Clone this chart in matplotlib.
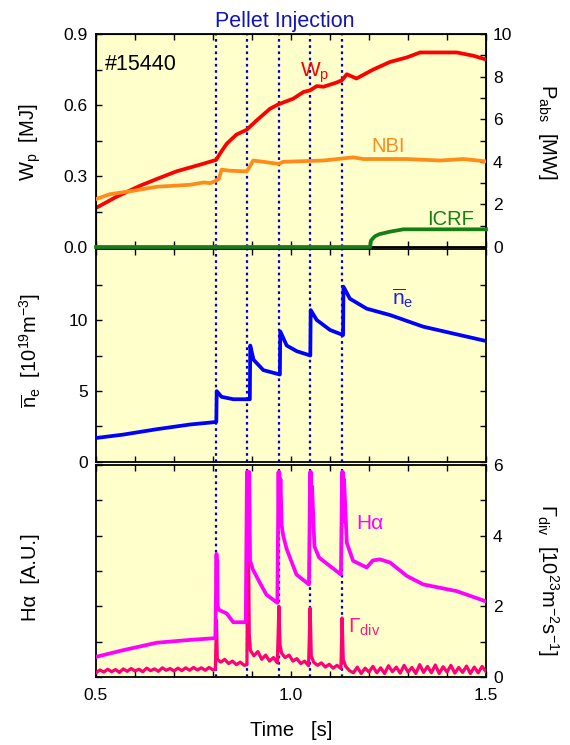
import matplotlib
matplotlib.use("Agg")
import matplotlib.pyplot as plt
from matplotlib.ticker import MultipleLocator, FixedLocator, FormatStrFormatter

plt.rcParams['font.family'] = ['Liberation Sans', 'DejaVu Sans']
plt.rcParams['mathtext.fontset'] = 'custom'
plt.rcParams['mathtext.rm'] = 'Liberation Sans'
plt.rcParams['mathtext.it'] = 'Liberation Sans:italic'
plt.rcParams['mathtext.bf'] = 'Liberation Sans:bold'

# ---------------- data ----------------
pellet_times = [0.808, 0.886, 0.968, 1.049, 1.131]

wp_t = [0.5, 0.55, 0.613, 0.66, 0.707, 0.767, 0.808, 0.82, 0.835, 0.86, 0.886, 0.912,
        0.946, 0.968, 1.006, 1.032, 1.049, 1.066, 1.083, 1.117, 1.131, 1.143, 1.168,
        1.211, 1.254, 1.297, 1.331, 1.425, 1.468, 1.5]
wp_v = [0.165, 0.21, 0.259, 0.29, 0.32, 0.348, 0.368, 0.40, 0.436, 0.475, 0.495, 0.535,
        0.584, 0.603, 0.627, 0.655, 0.662, 0.68, 0.677, 0.695, 0.705, 0.73, 0.712,
        0.75, 0.782, 0.801, 0.822, 0.822, 0.808, 0.792]

nbi_t = [0.5, 0.536, 0.596, 0.656, 0.741, 0.776, 0.793, 0.808, 0.815, 0.822, 0.844, 0.886,
         0.892, 0.903, 0.937, 0.968, 0.98, 1.083, 1.16, 1.185, 1.297, 1.382, 1.442, 1.5]
nbi_v = [2.25, 2.48, 2.64, 2.83, 2.92, 3.03, 3.0, 3.11, 3.2, 3.63, 3.58, 3.55,
         3.7, 4.06, 3.98, 3.9, 4.0, 4.06, 4.21, 4.13, 4.13, 4.06, 4.13, 4.02]

icrf_t = [0.5, 1.203, 1.205, 1.215, 1.226, 1.254, 1.288, 1.35, 1.5]
icrf_v = [0.0, 0.0, 0.3, 0.5, 0.6, 0.72, 0.83, 0.83, 0.83]

ne_t = [0.5, 0.57, 0.656, 0.741, 0.8085, 0.8095, 0.822, 0.852, 0.8945, 0.8955, 0.904, 0.929,
        0.9715, 0.9725, 0.989, 1.015, 1.0495, 1.0505, 1.066, 1.1, 1.1335, 1.1345, 1.151,
        1.194, 1.254, 1.339, 1.425, 1.5]
ne_v = [1.69, 1.93, 2.31, 2.64, 2.82, 4.99, 4.59, 4.42, 4.42, 8.2, 7.2, 6.47,
        6.16, 9.2, 8.2, 7.8, 7.5, 10.7, 10.0, 9.3, 8.94, 12.35, 11.5,
        10.8, 10.35, 9.53, 8.99, 8.52]

ha_t = [0.5, 0.57, 0.656, 0.741, 0.806, 0.809, 0.810, 0.811, 0.812, 0.815, 0.835, 0.852,
        0.884, 0.887, 0.888, 0.889, 0.890, 0.891, 0.893, 0.895, 0.902, 0.92, 0.937, 0.965,
        0.968, 0.969, 0.970, 0.971, 0.973, 0.976, 0.98, 0.989, 1.014, 1.046,
        1.049, 1.050, 1.051, 1.052, 1.054, 1.06, 1.072, 1.1, 1.128,
        1.131, 1.132, 1.133, 1.134, 1.136, 1.143, 1.159, 1.194,
        1.21, 1.228, 1.254, 1.297, 1.339, 1.425, 1.5]
ha_v = [0.57, 0.76, 0.97, 1.05, 1.1, 3.48, 2.4, 3.3, 2.0, 1.9, 1.8, 1.55,
        1.55, 5.8, 4.2, 5.8, 4.6, 5.8, 5.8, 3.3, 3.05, 2.67, 2.33, 2.1,
        5.8, 4.5, 5.8, 4.8, 5.6, 4.3, 4.0, 3.62, 2.9, 2.62,
        5.8, 4.4, 5.8, 4.5, 5.4, 3.7, 3.38, 3.14, 2.9,
        5.8, 4.6, 5.8, 4.4, 5.6, 3.8, 3.29, 3.1,
        3.3, 3.33, 3.24, 2.86, 2.62, 2.43, 2.14]

gd_t = [0.50, 0.51, 0.52, 0.53, 0.54, 0.55, 0.56, 0.57, 0.58, 0.59, 0.60, 0.61, 0.62, 0.63,
        0.64, 0.65, 0.66, 0.67, 0.68, 0.69, 0.70, 0.71, 0.72, 0.73, 0.74, 0.75, 0.76, 0.77,
        0.78, 0.79, 0.80, 0.806,
        0.809, 0.811, 0.82, 0.83, 0.84, 0.85, 0.86, 0.87, 0.88, 0.887,
        0.89, 0.893, 0.896, 0.905, 0.915, 0.925, 0.935, 0.945, 0.955, 0.965,
        0.969, 0.972, 0.976, 0.985, 0.995, 1.005, 1.015, 1.025, 1.035, 1.045,
        1.049, 1.052, 1.058, 1.068, 1.078, 1.088, 1.098, 1.108, 1.118, 1.128,
        1.131, 1.134, 1.14, 1.15, 1.16, 1.17, 1.18, 1.19, 1.20, 1.21, 1.22, 1.23, 1.24,
        1.25, 1.26, 1.27, 1.28, 1.29, 1.30, 1.31, 1.32, 1.33, 1.34, 1.35, 1.36, 1.37,
        1.38, 1.39, 1.40, 1.41, 1.42, 1.43, 1.44, 1.45, 1.46, 1.47, 1.48, 1.49, 1.50]
gd_v = [0.12, 0.20, 0.14, 0.22, 0.15, 0.21, 0.13, 0.23, 0.16, 0.24, 0.17, 0.22, 0.15, 0.25,
        0.18, 0.23, 0.16, 0.26, 0.19, 0.24, 0.17, 0.25, 0.18, 0.26, 0.19, 0.27, 0.20, 0.26,
        0.19, 0.27, 0.20, 0.22,
        1.6, 0.5, 0.42, 0.5, 0.38, 0.45, 0.35, 0.42, 0.33, 0.35,
        5.05, 1.2, 0.75, 0.6, 0.72, 0.5, 0.62, 0.45, 0.55, 0.4,
        2.0, 0.9, 0.67, 0.55, 0.62, 0.45, 0.52, 0.38, 0.45, 0.32,
        1.95, 0.6, 0.42, 0.33, 0.4, 0.28, 0.36, 0.25, 0.33, 0.24,
        1.67, 0.5, 0.3, 0.18, 0.12, 0.28, 0.10, 0.25, 0.14, 0.30, 0.12, 0.26, 0.10,
        0.32, 0.15, 0.28, 0.11, 0.33, 0.14, 0.27, 0.10, 0.35, 0.13, 0.30, 0.12, 0.34,
        0.10, 0.29, 0.14, 0.33, 0.11, 0.27, 0.13, 0.31, 0.10, 0.28, 0.12, 0.30, 0.15]

# ---------------- figure ----------------
W, H = 570, 745
fig = plt.figure(figsize=(W / 100, H / 100), dpi=100)
bg = '#FFFFCC'
left = 96 / W
width = 390 / W

def frac_rect(top_px, bot_px):
    return [left, 1 - bot_px / H, width, (bot_px - top_px) / H]

ax1 = fig.add_axes(frac_rect(34, 247))
ax2 = fig.add_axes(frac_rect(249, 462))
ax3 = fig.add_axes(frac_rect(465, 677))

tick_kw = dict(direction='in', length=4, width=1.0, labelsize=12.5, color='black')
for ax in (ax1, ax2, ax3):
    ax.set_facecolor(bg)
    ax.set_xlim(0.5, 1.5)
    ax.xaxis.set_major_locator(MultipleLocator(0.5))
    ax.xaxis.set_minor_locator(MultipleLocator(0.1))
    ax.tick_params(axis='both', which='both', top=True, **tick_kw)
    ax.tick_params(axis='x', which='both', pad=8)
    ax.tick_params(axis='y', which='both', pad=6)
    for s in ax.spines.values():
        s.set_linewidth(1.3)
    for pt in pellet_times:
        ax.axvline(pt, color='#0000C8', ls=(0, (1.2, 1.6)), lw=1.6, zorder=1)

ax1.tick_params(labelbottom=False)
ax2.tick_params(labelbottom=False)
ax3.xaxis.set_major_formatter(FormatStrFormatter('%.1f'))

# top panel
ax1.set_ylim(0, 0.9)
ax1.yaxis.set_major_locator(MultipleLocator(0.3))
ax1.yaxis.set_minor_locator(MultipleLocator(0.15))
ax1.yaxis.set_major_formatter(FormatStrFormatter('%.1f'))
ax1.tick_params(axis='y', right=False)
ax1.plot(wp_t, wp_v, color='#FF0000', lw=2.7, zorder=4, solid_joinstyle='round')
ax1b = ax1.twinx()
ax1b.set_ylim(0, 10)
ax1b.yaxis.set_major_locator(MultipleLocator(2))
ax1b.yaxis.set_minor_locator(MultipleLocator(1))
ax1b.tick_params(axis='y', which='both', direction='in', length=4, width=1.0,
                 labelsize=12.5, pad=5)
ax1b.plot(nbi_t, nbi_v, color='#FF8C1A', lw=2.7, zorder=3)
ax1b.plot(icrf_t, icrf_v, color='#157F15', lw=2.7, zorder=3, clip_on=False)
ax1b.set_xlim(0.5, 1.5)

ax1.text(0.523, 0.748, '#15440', fontsize=15.5, color='black', va='baseline')
ax1.text(1.023, 0.72, r'W$_\mathrm{p}$', fontsize=15, color='#FF0000', va='baseline')
ax1b.text(1.207, 4.45, 'NBI', fontsize=14.5, color='#FF8C1A', va='baseline')
ax1b.text(1.349, 1.03, 'ICRF', fontsize=14.5, color='#157F15', va='baseline')

# middle panel
ax2.set_ylim(0, 15)
ax2.yaxis.set_major_locator(FixedLocator([0, 5, 10]))
ax2.yaxis.set_minor_locator(FixedLocator([2.5, 7.5, 12.5]))
ax2.tick_params(axis='y', which='both', right=True, labelright=False)
ax2.plot(ne_t, ne_v, color='#0000FF', lw=2.7, zorder=4)
ax2.text(1.258, 11.06, r'$\overline{\mathrm{n}}_\mathrm{e}$', fontsize=15,
         color='#2020E0', va='baseline')

# bottom panel
ax3.set_ylim(0, 6)
ax3.yaxis.set_major_locator(MultipleLocator(2))
ax3.yaxis.set_minor_locator(MultipleLocator(1))
ax3.tick_params(axis='y', which='both', right=True, labelleft=False, labelright=True, pad=5)
ax3.plot(ha_t, ha_v, color='#FF00FF', lw=2.7, zorder=4)
ax3.plot(gd_t, gd_v, color='#FF0077', lw=2.3, zorder=3)
ax3.text(1.168, 4.2, 'H\u03b1', fontsize=15, color='#FF00FF', va='baseline')
ax3.text(1.147, 1.24, r'$\Gamma_\mathrm{div}$', fontsize=15, color='#FF1A80', va='baseline')

# axis titles
fig.text(285 / W, 1 - 27 / H, 'Pellet Injection', fontsize=15.5, color='#1414B4',
         ha='center', va='baseline')
fig.text(291 / W, 1 - 731 / H, 'Time   [s]', fontsize=14.5, ha='center', va='center')
fig.text(30 / W, 1 - 142 / H, r'W$_\mathrm{p}$  [MJ]', fontsize=14.5, rotation=90,
         ha='center', va='center')
fig.text(30 / W, 1 - 350 / H,
         r'$\overline{\mathrm{n}}_\mathrm{e}$  [10$^{19}$m$^{-3}$]', fontsize=14.5,
         rotation=90, ha='center', va='center')
fig.text(30 / W, 1 - 577 / H, 'H\u03b1  [A.U.]', fontsize=14.5, rotation=90,
         ha='center', va='center')
fig.text(548 / W, 1 - 132 / H, r'P$_\mathrm{abs}$  [MW]', fontsize=14.5, rotation=270,
         ha='center', va='center')
fig.text(548 / W, 1 - 580 / H,
         r'$\Gamma_\mathrm{div}$  [10$^{23}$m$^{-2}$s$^{-1}$]', fontsize=14.5,
         rotation=270, ha='center', va='center')

fig.savefig('out.png', dpi=100)
